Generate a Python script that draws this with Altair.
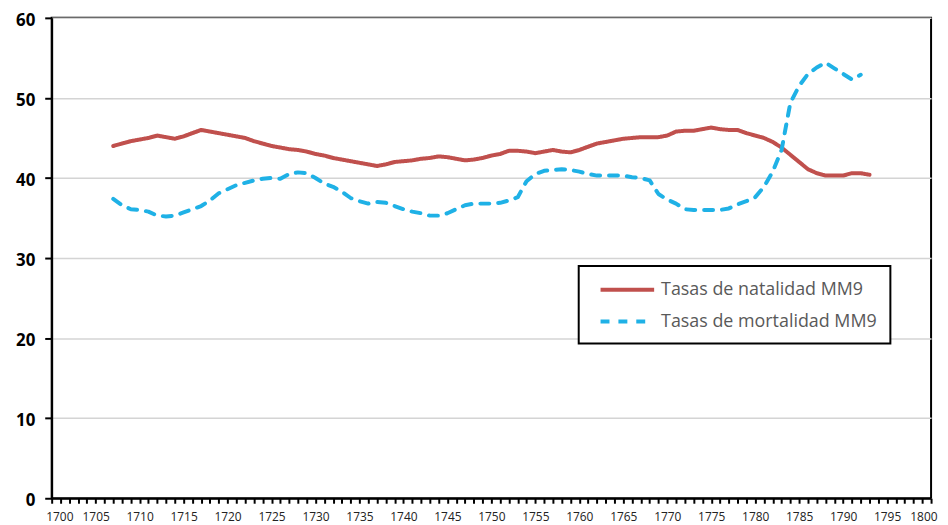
import altair as alt
import pandas as pd

natalidad_years = list(range(1707, 1794))
natalidad = [
    44.0, 44.3, 44.6, 44.8, 45.0, 45.3, 45.1, 44.9, 45.2, 45.6,
    46.0, 45.8, 45.6, 45.4, 45.2, 45.0, 44.6, 44.3, 44.0, 43.8,
    43.6, 43.5, 43.3, 43.0, 42.8, 42.5, 42.3, 42.1, 41.9, 41.7,
    41.5, 41.7, 42.0, 42.1, 42.2, 42.4, 42.5, 42.7, 42.6, 42.4,
    42.2, 42.3, 42.5, 42.8, 43.0, 43.4, 43.4, 43.3, 43.1, 43.3,
    43.5, 43.3, 43.2, 43.5, 43.9, 44.3, 44.5, 44.7, 44.9, 45.0,
    45.1, 45.1, 45.1, 45.3, 45.8, 45.9, 45.9, 46.1, 46.3, 46.1,
    46.0, 46.0, 45.6, 45.3, 45.0, 44.5, 43.8, 42.9, 42.0, 41.1,
    40.6, 40.3, 40.3, 40.3, 40.6, 40.6, 40.4,
]

mortalidad_years = list(range(1707, 1793))
mortalidad = [
    37.4, 36.6, 36.1, 36.0, 35.8, 35.3, 35.2, 35.3, 35.7, 36.1,
    36.5, 37.2, 38.1, 38.6, 39.1, 39.4, 39.7, 39.9, 40.0, 39.9,
    40.5, 40.7, 40.6, 40.0, 39.3, 38.9, 38.3, 37.5, 37.1, 36.8,
    37.0, 36.9, 36.5, 36.1, 35.8, 35.6, 35.3, 35.3, 35.6, 36.1,
    36.6, 36.8, 36.8, 36.8, 36.9, 37.2, 37.6, 39.6, 40.5, 40.9,
    41.0, 41.1, 41.0, 40.8, 40.5, 40.3, 40.3, 40.3, 40.3, 40.1,
    40.0, 39.7, 38.0, 37.3, 36.8, 36.1, 36.0, 36.0, 36.0, 36.0,
    36.2, 36.7, 37.1, 37.6, 38.9, 40.8, 43.5, 49.4, 51.5, 53.0,
    53.8, 54.4, 53.7, 53.0, 52.3, 52.9,
]

series_names = ["Tasas de natalidad MM9", "Tasas de mortalidad MM9"]
series_colors = ["#C0504D", "#1FB1E6"]
x_ticks = list(range(1700, 1801))
y_ticks = [0, 10, 20, 30, 40, 50, 60]

df = pd.concat([
    pd.DataFrame({"year": natalidad_years, "value": natalidad, "serie": series_names[0]}),
    pd.DataFrame({"year": mortalidad_years, "value": mortalidad, "serie": series_names[1]}),
])

legend = alt.Legend(
    title=None, orient="none", legendX=531, legendY=250,
    symbolType="M-1,0H5", symbolSize=324, symbolStrokeWidth=4,
    symbolOffset=7,
    labelFont="Open Sans", labelFontSize=18, labelColor="#595959",
    labelLimit=400, labelOffset=41, rowPadding=12,
    padding=13, strokeColor="#000", fillColor="#fff",
)

chart = alt.Chart(df).mark_line(strokeWidth=4, strokeCap="round", strokeJoin="round").encode(
    x=alt.X("year:Q",
            scale=alt.Scale(domain=[1700, 1800], nice=False, zero=False),
            axis=alt.Axis(values=x_ticks, title=None, grid=False,
                          labelExpr="datum.value % 5 === 0 ? datum.value : ''",
                          labelOverlap=False, labelFlush=True, labelFlushOffset=6,
                          domainColor="#000", domainWidth=2,
                          tickColor="#000", tickWidth=2, tickSize=5,
                          labelFont="Open Sans", labelFontSize=12, labelColor="#222",
                          labelPadding=8)),
    y=alt.Y("value:Q",
            scale=alt.Scale(domain=[0, 60], nice=False),
            axis=alt.Axis(values=y_ticks, title=None, grid=True,
                          gridColor="#d4d4d4", gridWidth=1.5,
                          domainColor="#000", domainWidth=2,
                          tickColor="#000", tickWidth=2, tickSize=7,
                          labelFont="Open Sans", labelFontSize=17, labelFontWeight="bold",
                          labelColor="#000", labelPadding=10, labelOffset=2.5)),
    color=alt.Color("serie:N",
                    scale=alt.Scale(domain=series_names, range=series_colors),
                    legend=legend),
    strokeDash=alt.StrokeDash("serie:N",
                              scale=alt.Scale(domain=series_names, range=[[1, 0], [9, 9]]),
                              legend=legend),
).properties(
    width=886,
    height=484,
    autosize=alt.AutoSizeParams(type="none"),
    padding={"left": 44, "top": 8, "right": 9, "bottom": 25},
).configure_view(
    stroke="#000", strokeWidth=2
).configure_legend(
    strokeWidth=2
)

chart.save("out.html", embed_options={"renderer": "svg", "actions": False})
